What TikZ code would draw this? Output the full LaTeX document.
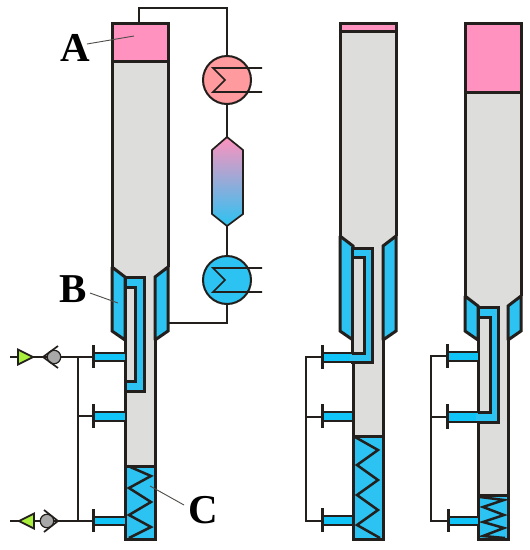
\documentclass[tikz,border=0pt]{standalone}
\usepackage{fontspec}
\setmainfont{Liberation Serif}
\definecolor{wallc}{HTML}{231F1C}
\definecolor{greyc}{HTML}{DDDDDB}
\definecolor{bluec}{HTML}{2CC3F2}
\definecolor{nozc}{HTML}{10C4F8}
\definecolor{pinkc}{HTML}{FF92BE}
\definecolor{salmonc}{HTML}{FF9A9E}
\definecolor{greenc}{HTML}{A9F03C}
\definecolor{valvec}{HTML}{A8A8A8}
\tikzset{
  wall/.style={draw=wallc,line width=3pt,line join=miter,miter limit=2},
  pipe/.style={draw=wallc,line width=1.7pt},
  coil/.style={draw=wallc,line width=2.5pt,line join=miter},
  flange/.style={draw=wallc,line width=3pt},
  leader/.style={draw=wallc!80,line width=0.9pt},
  letter/.style={font=\fontsize{41}{41}\selectfont\bfseries,text=black,inner sep=0pt},
  hx/.style={circle,draw=wallc,line width=2pt,minimum size=48pt,inner sep=0pt},
  tri/.style={draw=wallc,line width=1.8pt,fill=greenc,line join=miter},
  ball/.style={circle,fill=valvec,draw=wallc,line width=1.2pt,minimum size=13.5pt,inner sep=0pt},
}
% #1 x shift, #2 box bottom, #3 taper top, #4 bed top, #5 zigzag path
\newcommand{\vesselcol}[5]{%
  \begin{scope}[xshift=#1pt]
    \fill[greyc] (0,23) -- (56,23) -- (56,#3) -- (43,#3+11) -- (43,539) -- (13,539) -- (13,#3+11) -- (0,#3) -- cycle;
    \fill[pinkc] (0,23) rectangle (56,#2);
    \fill[bluec] (13,#4) rectangle (43,539);
    \draw[wall,fill=bluec] (0,#3+1) -- (13,#3+11) -- (13,340) -- (0,331) -- cycle;
    \draw[wall,fill=bluec] (56,#3+1) -- (43,#3+11) -- (43,340) -- (56,331) -- cycle;
    \draw[wall] (0,#2) -- (56,#2);
    \draw[wall] (0,#3+1) -- (0,23) -- (56,23) -- (56,#3+1);
    \draw[wall] (13,340) -- (13,539) -- (43,539) -- (43,340);
    \draw[wall] (13,#4) -- (43,#4);
    \draw[coil] #5;
  \end{scope}}
% #1 flange x, #2 top y, #3 bottom y, #4 wall x
\newcommand{\nozzle}[4]{%
  \fill[nozc] (#1,#2) rectangle (#4,#3);
  \draw[wall,line width=2.5pt] (#1,#2) -- (#4,#2) (#1,#3) -- (#4,#3);
  \draw[flange] (#1,#2-8) -- (#1,#3+7);}
\begin{document}
\begin{tikzpicture}[x=1pt,y=-1pt]
\useasboundingbox (0,0) rectangle (530,550);
\fill[white] (0,0) rectangle (530,550);

% ---- vessels
\vesselcol{112}{61}{266}{466}{(16,466) -- (39,476) -- (17,488) -- (39,502) -- (17,515) -- (39,527) -- (17,538)}
\vesselcol{340}{31}{235}{436}{(15,437) -- (38,450) -- (17,465) -- (38,480) -- (17,495) -- (38,510) -- (17,525) -- (40,538)}
\vesselcol{465}{92}{295}{495}{(15,497) -- (39,500) -- (18,507) -- (39,515) -- (18,522) -- (39,528) -- (18,536) -- (40,538)}

% ---- column 1 U tube (closed against the wall)
\draw[wall,fill=bluec] (125,277) -- (144,277) -- (144,391) -- (125,391);
\draw[wall,fill=greyc] (125,287) -- (135,287) -- (135,381) -- (125,381);
\draw[wall] (125,277) -- (125,391);
\nozzle{93}{353}{361}{125}
\nozzle{93}{412}{421}{125}
\nozzle{93}{517}{525}{125}

% ---- column 2 U tube fed by its top nozzle
\draw[wall,fill=bluec] (352,248) -- (372,248) -- (372,362) -- (352,362) -- cycle;
\nozzle{322}{353}{362}{352}
\fill[bluec] (350,354.5) rectangle (370.5,360.5);
\draw[wall,fill=greyc] (352,353) -- (364,353) -- (364,257) -- (352,257);
\draw[wall] (352,248) -- (352,353);
\draw[wall] (352,362) -- (372,362);
\nozzle{322}{412}{421}{352}
\nozzle{322}{516}{525}{352}

% ---- column 3 U tube fed by its middle nozzle
\draw[wall,fill=bluec] (478,307) -- (498,307) -- (498,422) -- (478,422) -- cycle;
\nozzle{447}{412}{422}{478}
\fill[bluec] (476,413.5) rectangle (496.5,420.5);
\draw[wall,fill=greyc] (478,412) -- (490,412) -- (490,317) -- (478,317);
\draw[wall] (478,307) -- (478,412);
\draw[wall] (478,422) -- (498,422);
\nozzle{447}{352}{361}{478}
\nozzle{448}{517}{525}{478}

% ---- heat exchangers and buffer vessel
\node[hx,fill=salmonc] (hot) at (227,80) {};
\node[hx,fill=bluec] (cold) at (227,280) {};
\draw[pipe] (262,68) -- (213,68) -- (225,80) -- (213,92) -- (262,92);
\draw[pipe] (262,268) -- (213,268) -- (225,280) -- (213,292) -- (262,292);
\coordinate (storeT) at (227,137);
\coordinate (storeB) at (227,226);
\draw[pipe,top color=pinkc,bottom color=bluec,line join=miter]
  (storeT) -- (243,150) -- (243,214) -- (storeB) -- (212,214) -- (212,150) -- cycle;
\coordinate (colAtop) at (139,23);
\coordinate (colAjacket) at (168,323);
\draw[pipe] (colAtop) |- (227,8) -- (hot.north);
\draw[pipe] (hot.south) -- (storeT);
\draw[pipe] (storeB) -- (cold.north);
\draw[pipe] (cold.south) |- (colAjacket);

% ---- feed manifolds
\coordinate (a1) at (93,357); \coordinate (a2) at (93,416); \coordinate (a3) at (93,521);
\coordinate (j1) at (78,357); \coordinate (j3) at (78,521);
\coordinate (b1) at (322,357); \coordinate (b2) at (322,417); \coordinate (b3) at (322,521);
\coordinate (c1) at (447,356); \coordinate (c2) at (447,417); \coordinate (c3) at (448,521);
\draw[pipe] (a1) -- (10,357);
\draw[pipe] (a3) -- (10,521);
\draw[pipe] (j1) -- (j3);
\draw[pipe] (a2) -| (j1);
\draw[pipe] (b1) -| (306,521) -- (b3);
\draw[pipe] (b2) -- (306,417);
\draw[pipe] (c1) -| (431,521) -- (c3);
\draw[pipe] (c2) -- (431,417);

% ---- inlet and outlet fittings
\draw[tri] (18,349.5) -- (33,357) -- (18,364.5) -- cycle;
\node[ball] (vtop) at (54,357) {};
\draw[pipe] (58,346) -- (43,357) -- (58,368);
\draw[tri] (34,513.5) -- (19,521) -- (34,528.5) -- cycle;
\node[ball] (vbot) at (47,521) {};
\draw[pipe] (44,510) -- (58,521) -- (44,532);

% ---- labels
\node[letter] (A) at (75,48) {A};
\node[letter] (B) at (73,289) {B};
\node[letter] (C) at (203,510) {C};
\coordinate (Ap) at (134,36);
\coordinate (Bp) at (118,303);
\coordinate (Cp) at (150,486);
\draw[leader] (87,44) -- (Ap);
\draw[leader] (90,293) -- (Bp);
\draw[leader] (184,505) -- (Cp);
\end{tikzpicture}
\end{document}
